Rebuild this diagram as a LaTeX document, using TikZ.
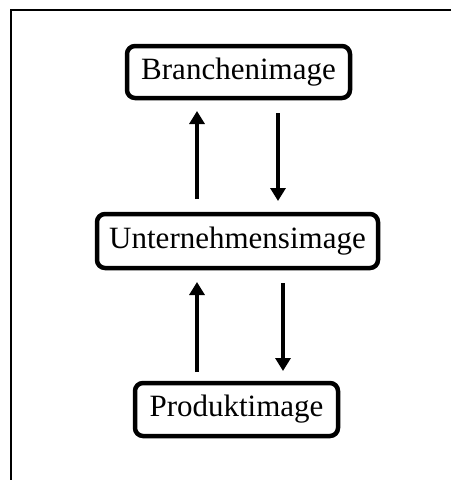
\documentclass[tikz,border=0pt]{standalone}
\usepackage{fontspec}
\setmainfont{Liberation Serif}
\usetikzlibrary{arrows.meta}
\begin{document}
\begin{tikzpicture}[x=1pt,y=-1pt,
  imgbox/.style={draw, line width=4.5pt, rounded corners=8pt, inner sep=0pt,
    font=\fontsize{31}{36}\selectfont, anchor=center},
  arr/.style={line width=4.5pt, -{Triangle[width=15pt,length=13pt]}},
  frame/.style={line width=2pt}]
\useasboundingbox (0,0) rectangle (451,480);
\draw[frame] (451,10) -- (11,10) -- (11,480);
\node[imgbox, minimum width=223pt, minimum height=52pt] (B) at (238.5,72) {Branchenimage};
\node[imgbox, minimum width=281pt, minimum height=54pt] (U) at (237.5,241) {Unternehmensimage};
\node[imgbox, minimum width=203pt, minimum height=53pt] (P) at (236.5,409.5) {Produktimage};
\coordinate (a1s) at (197,199);
\coordinate (a1e) at (197,111);
\coordinate (a2s) at (278,113);
\coordinate (a2e) at (278,201);
\coordinate (a3s) at (197,372);
\coordinate (a3e) at (197,282);
\coordinate (a4s) at (283,283);
\coordinate (a4e) at (283,371);
\draw[arr] (a1s) -- (a1e);
\draw[arr] (a2s) -- (a2e);
\draw[arr] (a3s) -- (a3e);
\draw[arr] (a4s) -- (a4e);
\end{tikzpicture}
\end{document}
